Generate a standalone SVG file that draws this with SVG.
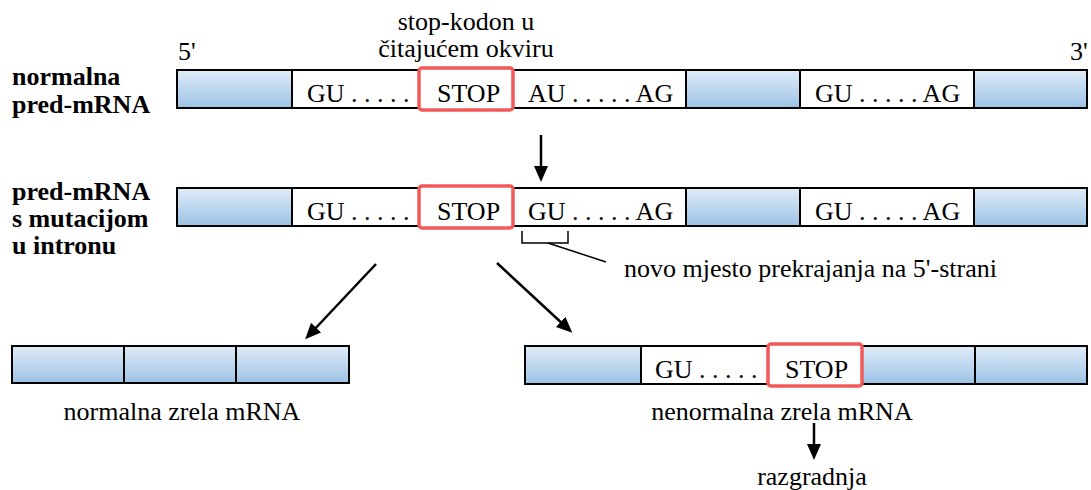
<svg xmlns="http://www.w3.org/2000/svg" width="1091" height="490" viewBox="0 0 1091 490">
<defs>
<linearGradient id="blue" x1="0" y1="0" x2="0" y2="1">
<stop offset="0" stop-color="#e1ecf7"/>
<stop offset="1" stop-color="#9cc2e6"/>
</linearGradient>
<marker id="ah" viewBox="0 0 16 14" refX="6" refY="7" markerWidth="16" markerHeight="14" markerUnits="userSpaceOnUse" orient="auto">
<path d="M0,0 L16,7 L0,14 z" fill="#000"/>
</marker>
</defs>
<style>
.ex{fill:url(#blue);stroke:#000;stroke-width:2}
.in{fill:#fff;stroke:#000;stroke-width:2}
.stop{fill:#fff;stroke:#f25a5a;stroke-width:3.5}
.ar{stroke:#000;stroke-width:2.5;fill:none;marker-end:url(#ah)}
.ln{stroke:#000;stroke-width:1.5;fill:none}
</style>

<g id="labels">
<text font-family="Liberation Serif" font-size="26" style="font-family:'Liberation Serif'" font-weight="bold" x="12" y="85">normalna</text>
<text font-family="Liberation Serif" font-size="26" style="font-family:'Liberation Serif'" font-weight="bold" x="12" y="113">pred-mRNA</text>
<text font-family="Liberation Serif" font-size="26" style="font-family:'Liberation Serif'" font-weight="bold" x="12" y="200">pred-mRNA</text>
<text font-family="Liberation Serif" font-size="26" style="font-family:'Liberation Serif'" font-weight="bold" x="12" y="227">s mutacijom</text>
<text font-family="Liberation Serif" font-size="26" style="font-family:'Liberation Serif'" font-weight="bold" x="12" y="254">u intronu</text>
<text font-family="Liberation Serif" font-size="26" style="font-family:'Liberation Serif'" x="178" y="60">5'</text>
<text font-family="Liberation Serif" font-size="26" style="font-family:'Liberation Serif'" x="1070" y="60">3'</text>
<text font-family="Liberation Serif" font-size="26" style="font-family:'Liberation Serif'" x="466" y="30" text-anchor="middle">stop-kodon u</text>
<text font-family="Liberation Serif" font-size="26" style="font-family:'Liberation Serif'" x="466" y="57" text-anchor="middle">čitajućem okviru</text>
</g>

<g id="normal-pre-mrna">
<rect class="ex" x="177" y="70" width="115" height="38"/>
<rect class="in" x="292" y="70" width="220" height="38"/>
<rect class="in" x="512" y="70" width="174" height="38"/>
<rect class="ex" x="686" y="70" width="114" height="38"/>
<rect class="in" x="800" y="70" width="174" height="38"/>
<rect class="ex" x="974" y="70" width="113" height="38"/>
<rect class="stop" x="419" y="68" width="94" height="42" rx="3"/>
<text font-family="Liberation Serif" font-size="26" style="font-family:'Liberation Serif'" x="307" y="102">GU . . . . .</text>
<text font-family="Liberation Serif" font-size="26" style="font-family:'Liberation Serif'" x="437" y="102">STOP</text>
<text font-family="Liberation Serif" font-size="26" style="font-family:'Liberation Serif'" x="528" y="102">AU . . . . . AG</text>
<text font-family="Liberation Serif" font-size="26" style="font-family:'Liberation Serif'" x="815" y="102">GU . . . . . AG</text>
</g>

<g id="mutant-pre-mrna">
<rect class="ex" x="177" y="188" width="115" height="38"/>
<rect class="in" x="292" y="188" width="220" height="38"/>
<rect class="in" x="512" y="188" width="174" height="38"/>
<rect class="ex" x="686" y="188" width="114" height="38"/>
<rect class="in" x="800" y="188" width="174" height="38"/>
<rect class="ex" x="974" y="188" width="113" height="38"/>
<rect class="stop" x="419" y="186" width="94" height="42" rx="3"/>
<text font-family="Liberation Serif" font-size="26" style="font-family:'Liberation Serif'" x="307" y="220">GU . . . . .</text>
<text font-family="Liberation Serif" font-size="26" style="font-family:'Liberation Serif'" x="437" y="220">STOP</text>
<text font-family="Liberation Serif" font-size="26" style="font-family:'Liberation Serif'" x="528" y="220">GU . . . . . AG</text>
<text font-family="Liberation Serif" font-size="26" style="font-family:'Liberation Serif'" x="815" y="220">GU . . . . . AG</text>
</g>

<g id="new-splice-site">
<path class="ln" d="M522,231 V243 H568 V231"/>
<line class="ln" x1="548" y1="243" x2="606" y2="262"/>
<text font-family="Liberation Serif" font-size="26" style="font-family:'Liberation Serif'" x="624" y="277">novo mjesto prekrajanja na 5'-strani</text>
</g>

<g id="normal-mature-mrna">
<rect class="ex" x="12" y="346" width="112" height="37"/>
<rect class="ex" x="124" y="346" width="112" height="37"/>
<rect class="ex" x="236" y="346" width="113" height="37"/>
<text font-family="Liberation Serif" font-size="26" style="font-family:'Liberation Serif'" x="182" y="420" text-anchor="middle">normalna zrela mRNA</text>
</g>

<g id="abnormal-mature-mrna">
<rect class="ex" x="525" y="346" width="116" height="38"/>
<rect class="in" x="641" y="346" width="127" height="38"/>
<rect class="ex" x="862" y="346" width="113" height="38"/>
<rect class="ex" x="975" y="346" width="112" height="38"/>
<rect class="stop" x="768" y="344" width="94" height="42" rx="3"/>
<text font-family="Liberation Serif" font-size="26" style="font-family:'Liberation Serif'" x="655" y="378">GU . . . . .</text>
<text font-family="Liberation Serif" font-size="26" style="font-family:'Liberation Serif'" x="785" y="378">STOP</text>
<text font-family="Liberation Serif" font-size="26" style="font-family:'Liberation Serif'" x="782" y="420" text-anchor="middle">nenormalna zrela mRNA</text>
</g>

<g id="degradation">
<text font-family="Liberation Serif" font-size="26" style="font-family:'Liberation Serif'" x="812" y="485" text-anchor="middle">razgradnja</text>
</g>

<g id="connectors">
<line class="ar" x1="541" y1="135" x2="541" y2="172"/>
<line class="ar" x1="376" y1="264" x2="312" y2="332"/>
<line class="ar" x1="497" y1="263" x2="565" y2="326"/>
<line class="ar" x1="814" y1="423" x2="814" y2="450"/>
</g>
</svg>
